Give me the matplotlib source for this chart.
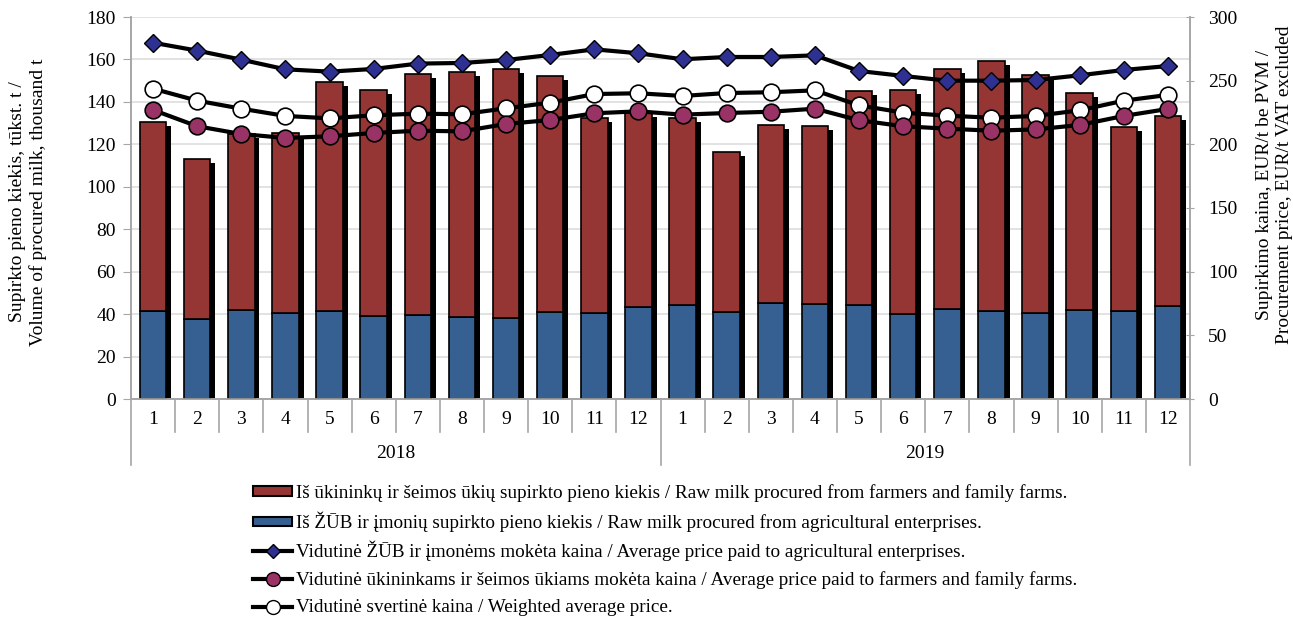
import matplotlib
matplotlib.use("Agg")
import matplotlib.pyplot as plt
import matplotlib.transforms as mtransforms
from matplotlib.patches import Patch
from matplotlib.lines import Line2D
import numpy as np

plt.rcParams['font.family'] = ['Liberation Serif', 'DejaVu Serif']

months = ["1", "2", "3", "4", "5", "6", "7", "8", "9", "10", "11", "12"] * 2
years = ["2018", "2019"]

total_milk = [130.5, 113.2, 124.7, 125.2, 149.2, 145.8, 153.3, 154.2, 155.7, 152.2, 132.4, 134.9,
              132.6, 116.5, 129.3, 128.7, 145.3, 145.8, 155.5, 159.3, 152.7, 144.2, 128.3, 133.4]
enterprises_milk = [41.5, 37.8, 41.9, 40.4, 41.5, 39.3, 39.6, 38.6, 38.3, 40.9, 40.5, 43.5,
                    44.4, 41.0, 45.4, 44.6, 44.4, 40.2, 42.4, 41.5, 40.5, 41.9, 41.3, 43.8]
farmers_milk = [t - e for t, e in zip(total_milk, enterprises_milk)]

price_enterprises = [279.8, 273.6, 266.5, 258.9, 257.1, 259.2, 263.4, 263.9, 266.2, 270.2, 274.6, 271.5,
                     266.8, 268.6, 268.6, 269.9, 257.6, 253.7, 250.0, 250.0, 250.5, 254.2, 258.4, 261.5]
price_farmers = [227.0, 214.2, 208.1, 205.0, 206.3, 208.9, 210.7, 210.2, 216.0, 219.1, 224.4, 225.9,
                 223.3, 224.6, 225.6, 228.0, 218.9, 214.2, 212.3, 210.7, 211.7, 215.2, 222.3, 227.8]
price_weighted = [243.7, 234.3, 228.0, 222.3, 220.4, 222.8, 224.1, 223.6, 228.3, 232.7, 239.5, 240.1,
                  238.0, 240.3, 240.9, 242.4, 230.6, 224.9, 222.5, 220.9, 222.3, 226.7, 234.3, 238.8]

labels = [
    "Iš ūkininkų ir šeimos ūkių supirkto pieno kiekis / Raw milk procured from farmers and family farms.",
    "Iš ŽŪB ir įmonių supirkto pieno kiekis / Raw milk procured from agricultural enterprises.",
    "Vidutinė ŽŪB ir įmonėms mokėta kaina / Average price paid to agricultural enterprises.",
    "Vidutinė ūkininkams ir šeimos ūkiams mokėta kaina / Average price paid to farmers and family farms.",
    "Vidutinė svertinė kaina / Weighted average price.",
]

RED = "#963634"
BLUE = "#366092"
NAVY = "#2E3192"
PURPLE = "#993366"
GRID = "#DDDDDD"
AXC = "#A6A6A6"
FS = 14

fig = plt.figure(figsize=(12.93, 6.19), dpi=100)
ax = fig.add_axes([131/1293, 1-399/619, (1190-131)/1293, (399-17)/619])
ax2 = ax.twinx()

x = np.arange(len(months))
bw = 0.6
# shadow offsets (style)
dx = 0.11
dy = 1.9
ax.bar(x + dx, np.array(total_milk) - dy, width=bw, color="black", zorder=2)
ax.bar(x, enterprises_milk, width=bw, color=BLUE, edgecolor="black", linewidth=1.2, zorder=3)
ax.bar(x, farmers_milk, bottom=enterprises_milk, width=bw, color=RED, edgecolor="black", linewidth=1.2, zorder=3)

ax.set_xlim(-0.5, len(months) - 0.5)
ax.set_ylim(0, 180)
ax.set_yticks(np.arange(0, 181, 20))
ax.yaxis.grid(True, color=GRID, linewidth=1.2, zorder=0)
ax.set_axisbelow(True)

ax2.set_ylim(0, 300)
ax2.set_yticks(np.arange(0, 301, 50))

lw = 3
ax2.plot(x, price_enterprises, color="black", lw=lw, marker="D", markersize=9.5,
         markerfacecolor=NAVY, markeredgecolor="black", markeredgewidth=1, zorder=5)
ax2.plot(x, price_weighted, color="black", lw=lw, marker="o", markersize=12,
         markerfacecolor="white", markeredgecolor="black", markeredgewidth=1.2, zorder=5)
ax2.plot(x, price_farmers, color="black", lw=lw, marker="o", markersize=12,
         markerfacecolor=PURPLE, markeredgecolor="black", markeredgewidth=1.2, zorder=5)

for a in (ax, ax2):
    a.spines["top"].set_visible(False)
    for s in ("left", "right", "bottom"):
        a.spines[s].set_color(AXC)
        a.spines[s].set_linewidth(1.2)

ax.tick_params(axis="y", which="both", length=6, color=AXC, labelsize=FS, pad=5, direction="out")
ax2.tick_params(axis="y", which="both", length=6, color=AXC, labelsize=FS, pad=10, direction="inout")
ax.set_xticks(x)
ax.set_xticklabels(months, fontsize=FS)
ax.tick_params(axis="x", length=0, pad=9)

# category axis separators
trans = mtransforms.blended_transform_factory(ax.transData, ax.transAxes)
def axfrac(py):
    return (399 - py) / (399 - 17)
n = len(months)
for i in range(n + 1):
    xb = i - 0.5
    y1 = axfrac(465) if i % 12 == 0 else axfrac(432)
    ax.plot([xb, xb], [0, y1], transform=trans, color=AXC, lw=1.2, clip_on=False, zorder=1)
for j, yr in enumerate(years):
    ax.text(j * 12 + 5.5, axfrac(453), yr, transform=trans, ha="center", va="center", fontsize=FS)

ax.set_ylabel("Supirkto pieno kiekis, tūkst. t /\nVolume of procured milk, thousand t",
              fontsize=FS, linespacing=1.2)
ax.yaxis.set_label_coords((47 - 131) / 1059, axfrac(202))
ax2.set_ylabel("Supirkimo kaina, EUR/t be PVM /\nProcurement price, EUR/t VAT excluded",
               fontsize=FS, linespacing=1.2)
ax2.yaxis.set_label_coords((1256 - 131) / 1059, axfrac(185))

handles = [
    Patch(facecolor=RED, edgecolor="black", linewidth=1.5),
    Patch(facecolor=BLUE, edgecolor="black", linewidth=1.5),
    Line2D([], [], color="black", lw=lw, marker="D", markersize=7, markerfacecolor=NAVY, markeredgecolor="black"),
    Line2D([], [], color="black", lw=lw, marker="o", markersize=10, markerfacecolor=PURPLE, markeredgecolor="black"),
    Line2D([], [], color="black", lw=lw, marker="o", markersize=10, markerfacecolor="white", markeredgecolor="black"),
]
row_y = [493, 522, 551, 580, 608]
for h, lab, ry in zip(handles, labels, row_y):
    fig.legend([h], [lab], loc="center left", bbox_to_anchor=(253/1293, 1-ry/619),
               frameon=False, fontsize=13.8, handlelength=2.05, handleheight=0.4,
               handletextpad=0.2, borderaxespad=0, borderpad=0)

fig.savefig("out.png", dpi=100)
